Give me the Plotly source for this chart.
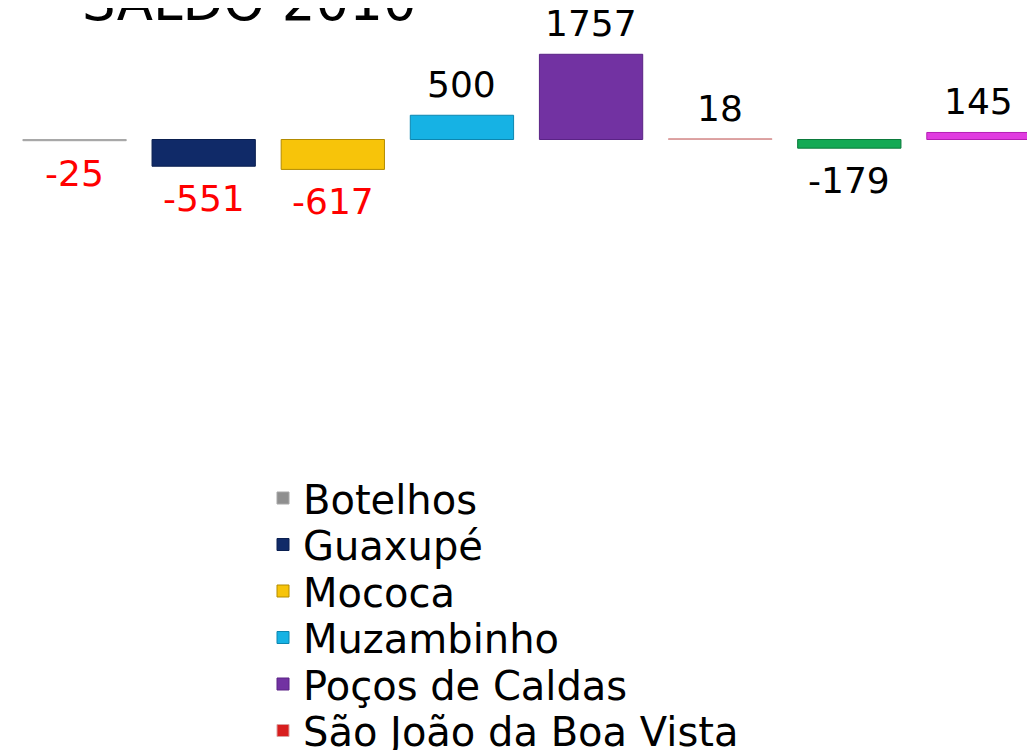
import plotly.graph_objects as go

# ---- data ----
municipios = ["Botelhos", "Guaxupé", "Mococa", "Muzambinho", "Poços de Caldas",
              "São João da Boa Vista", "São José do Rio Pardo", "São Sebastião do Paraíso"]
saldo_2010 = [-25, -551, -617, 500, 1757, 18, -179, 145]
title_text = "SALDO 2010"

# ---- styles ----
bar_colors = ["#8f8f8f", "#102a68", "#f7c40a", "#16b2e4", "#7232a2", "#d81e1e", "#14aa55", "#e03ce0"]
line_colors = ["#a8a8a8", "#0a1f50", "#b38b00", "#0c86b0", "#5a2385", "#dba0a0", "#0b7a3b", "#b41fb4"]
label_colors = ["#ff0000", "#ff0000", "#ff0000", "#000000", "#000000", "#000000", "#000000", "#000000"]

FONT = "DejaVu Sans"
W, H = 1035, 750
OFF = 8  # page offset of the figure inside the html body
ML = 10 - OFF
zero_px = 139.5 - OFF
px_per_unit = 0.0485
y_top = zero_px / px_per_unit
y_bot = y_top - H / px_per_unit

legend_left_px = 263 - OFF
legend_first_px = 500 - OFF - 2
legend_step_px = 46.5

fig = go.Figure()
layout_legends = {}
for i, (name, val) in enumerate(zip(municipios, saldo_2010)):
    key = "legend" if i == 0 else f"legend{i+1}"
    fig.add_trace(go.Bar(
        x=[name], y=[val], name=name,
        marker=dict(color=bar_colors[i], line=dict(color=line_colors[i], width=1)),
        legend=key, width=0.8,
        hoverinfo="name+y",
    ))
    cy = legend_first_px + i * legend_step_px
    layout_legends[key] = dict(
        x=(legend_left_px - ML) / (W - ML), xanchor="left",
        y=1 - cy / H, yanchor="middle",
        bgcolor="rgba(0,0,0,0)", borderwidth=0,
        font=dict(family=FONT, size=40, color="#000000"),
        itemclick=False, itemdoubleclick=False,
    )
    # value label
    if val >= 0:
        fig.add_annotation(x=name, y=val, text=str(val), showarrow=False,
                           yanchor="bottom", yshift=8,
                           font=dict(family=FONT, size=36, color=label_colors[i]))
    else:
        fig.add_annotation(x=name, y=val, text=str(val), showarrow=False,
                           yanchor="top", yshift=-10,
                           font=dict(family=FONT, size=36, color=label_colors[i]))

fig.add_annotation(xref="paper", yref="paper", x=(249 - OFF - ML) / (W - ML), y=1 - (34 - OFF) / H,
                   xanchor="center", yanchor="bottom", showarrow=False,
                   text=title_text, font=dict(family=FONT, size=53, color="#000000"))

fig.update_layout(
    width=W, height=H,
    margin=dict(l=ML, r=0, t=0, b=0, autoexpand=False),
    paper_bgcolor="#ffffff", plot_bgcolor="#ffffff",
    barmode="overlay", showlegend=True,
    xaxis=dict(visible=False, categoryorder="array", categoryarray=municipios,
               range=[-0.5, len(municipios) - 0.5]),
    yaxis=dict(visible=False, range=[y_bot, y_top]),
    **layout_legends,
)

fig.write_html("out.html")
